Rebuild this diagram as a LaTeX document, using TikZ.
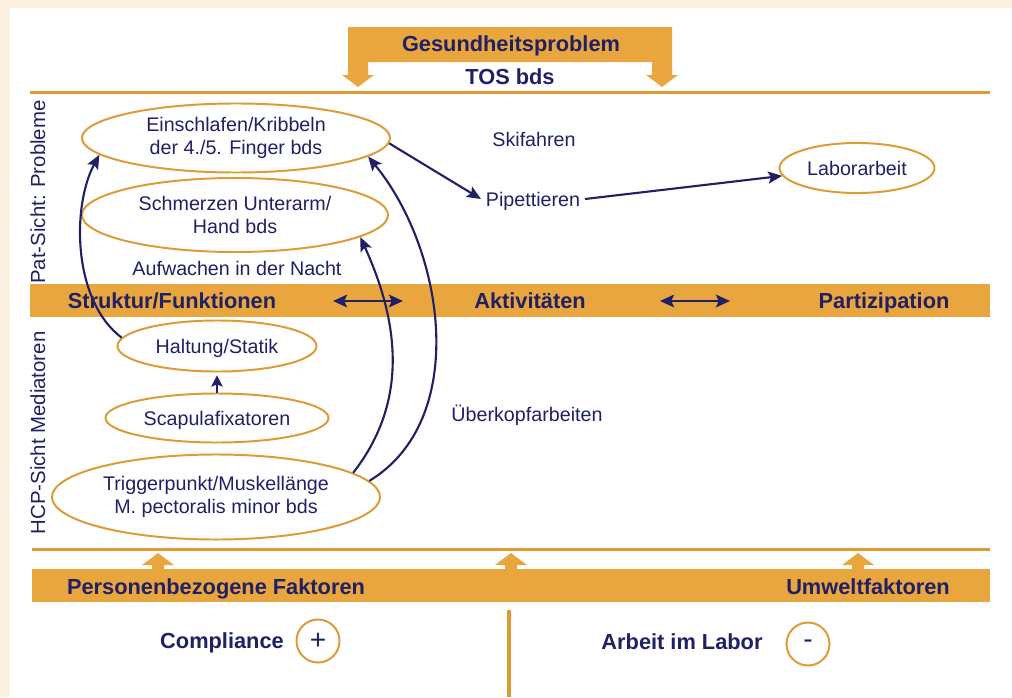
\documentclass[tikz,border=0pt]{standalone}
\usepackage{fontspec}
\setmainfont{Liberation Sans}
\usetikzlibrary{arrows.meta,shapes.geometric}
\definecolor{icforange}{RGB}{234,166,62}
\definecolor{icfline}{RGB}{222,154,52}
\definecolor{icfnavy}{RGB}{32,32,102}
\definecolor{pagecream}{RGB}{252,241,222}
\tikzset{
	txt/.style={text=icfnavy, font=\fontsize{14}{16.3}\selectfont, align=center},
	onel/.style={txt, text height=10pt, text depth=0pt},
	barlbl/.style={text=icfnavy, font=\fontsize{15.5}{18}\selectfont\bfseries, text height=11.2pt, text depth=0pt},
	probell/.style={ellipse, draw=icfline, line width=1.4pt, inner sep=0pt, txt},
	signcirc/.style={circle, draw=icfline, line width=1.4pt, minimum size=1.075cm, inner sep=0pt, text=icfnavy, font=\fontsize{20}{20}\selectfont},
	navyarr/.style={draw=icfnavy, line width=1.5pt, -{Stealth[length=10pt,width=8.5pt,inset=2pt]}},
	dblarr/.style={draw=icfnavy, line width=1.8pt, {Stealth[length=10pt,width=9pt,inset=2pt]}-{Stealth[length=10pt,width=9pt,inset=2pt]}},
	rule/.style={draw=icfline, line width=2.2pt},
}
\begin{document}
\begin{tikzpicture}[x=0.025cm, y=-0.025cm]
	\useasboundingbox (0,0) rectangle (1012,697);
	\fill[pagecream] (0,0) rectangle (1012,697);
	\fill[white] (10,8) rectangle (1012,697);
	% Gesundheitsproblem
	\fill[icforange] (348,27) -- (672,27) -- (672,75) -- (678,75) -- (662,87) -- (646,75) -- (652,75) -- (652,62)
		-- (368,62) -- (368,75) -- (374,75) -- (358,87) -- (342,75) -- (348,75) -- cycle;
	\node[barlbl] (gesund) at (511,44) {Gesundheitsproblem};
	\node[barlbl] (tos) at (510,77) {TOS bds};
	\draw[rule] (30,92.5) -- (990,92.5);
	\node[onel, rotate=90, font=\fontsize{14.5}{16}\selectfont] (patsicht) at (38,192) {Pat-Sicht: Probleme};
	\node[onel, rotate=90, font=\fontsize{14.5}{16}\selectfont] (hcpsicht) at (38,433) {HCP-Sicht Mediatoren};
	% Probleme
	\node[probell, minimum width=7.7cm, minimum height=1.725cm] (kribbeln) at (236,138) {Einschlafen/Kribbeln\\der 4./5. Finger bds};
	\node[probell, minimum width=7.65cm, minimum height=1.85cm] (schmerz) at (235,215) {Schmerzen Unterarm/\\Hand bds};
	\node[onel] (nacht) at (237,268) {Aufwachen in der Nacht};
	\node[onel] (ski) at (534,139) {Skifahren};
	\node[onel] (pip) at (533,199) {Pipettieren};
	\node[probell, minimum width=3.875cm, minimum height=1.25cm, text height=10pt, text depth=0pt] (labor) at (857,168) {Laborarbeit};
	% Ebenen
	\fill[icforange] (30,284) rectangle (990,317);
	\node[barlbl] (struktur) at (172,301) {Struktur/Funktionen};
	\node[barlbl] (aktiv) at (530,301) {Aktivitäten};
	\node[barlbl] (partiz) at (884,301) {Partizipation};
	\coordinate (sfL) at (333,301);
	\coordinate (sfR) at (403,301);
	\coordinate (akL) at (660,301);
	\coordinate (akR) at (730,301);
	\draw[dblarr] (sfL) -- (sfR);
	\draw[dblarr] (akL) -- (akR);
	% Mediatoren
	\node[probell, minimum width=4.975cm, minimum height=1.275cm, text height=10pt, text depth=0pt] (haltung) at (217,346) {Haltung/Statik};
	\node[probell, minimum width=5.575cm, minimum height=1.225cm, text height=10pt, text depth=0pt] (scapula) at (217,418) {Scapulafixatoren};
	\node[probell, minimum width=8.2cm, minimum height=2.125cm] (trigger) at (216,497) {Triggerpunkt/Muskellänge\\M. pectoralis minor bds};
	\node[onel] (ueberkopf) at (527,414) {Überkopfarbeiten};
	% Pfeile
	\draw[navyarr, -{Stealth[length=8pt,width=8pt,inset=1.5pt]}, shorten >=2pt] (scapula) -- (haltung);
	\draw[navyarr] (haltung.175) .. controls (72,300) and (72,205) .. (kribbeln.187);
	\draw[navyarr] (trigger.10) .. controls (410,400) and (398,320) .. (schmerz.350);
	\draw[navyarr] (trigger.6) .. controls (470,420) and (445,250) .. (kribbeln.352);
	\draw[navyarr] (kribbeln.358) -- (pip.west);
	\draw[navyarr] (pip.east) -- (labor.186);
	% Kontextfaktoren
	\draw[rule] (32,549.5) -- (990,549.5);
	\foreach \ax in {158,511,858} {
		\fill[icforange] (\ax-6,570) -- (\ax-6,565) -- (\ax-16,565) -- (\ax,553) -- (\ax+16,565) -- (\ax+6,565) -- (\ax+6,570) -- cycle;
	}
	\fill[icforange] (32,569) rectangle (990,602);
	\node[barlbl] (person) at (216,587) {Personenbezogene Faktoren};
	\node[barlbl] (umwelt) at (868,587) {Umweltfaktoren};
	\draw[rule, line width=2.8pt] (509,610) -- (509,697);
	\node[barlbl] (compl) at (222,641) {Compliance};
	\node[signcirc] (plus) at (318,641) {+};
	\node[barlbl] (arbeit) at (682,642) {Arbeit im Labor};
	\node[signcirc] (minus) at (808,644) {-};
\end{tikzpicture}
\end{document}
